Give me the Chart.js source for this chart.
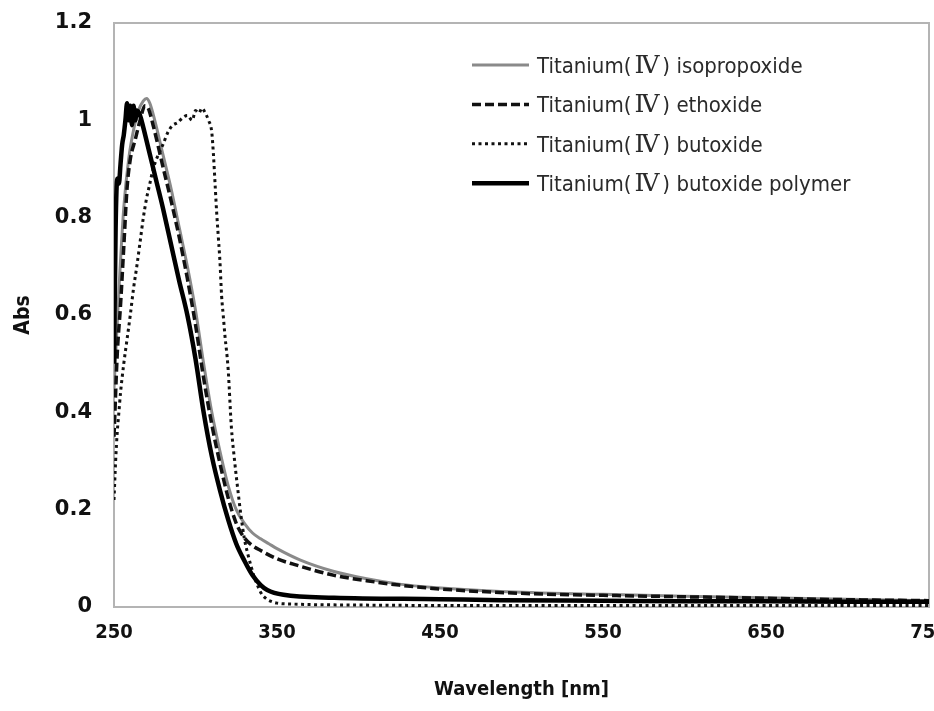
<!DOCTYPE html>
<html>
<head>
<meta charset="utf-8">
<script src="https://cdn.jsdelivr.net/npm/chart.js@4.4.1/dist/chart.umd.min.js"></script>
<style>
  html, body { margin: 0; padding: 0; background: #fff; }
  #wrap { width: 934px; height: 711px; position: relative; }
</style>
</head>
<body>
<div id="wrap"><canvas id="myChart"></canvas></div>
<script>
var nombres = [
    "Titanium(\u2163) isopropoxide",
    "Titanium(\u2163) ethoxide",
    "Titanium(\u2163) butoxide",
    "Titanium(\u2163) butoxide polymer"
];

var nm_iso = [250, 253, 256, 259, 262, 265, 268, 270, 272, 275, 280, 285, 290, 295, 300, 305, 310, 315, 320, 325, 330, 335, 340, 345, 350, 364, 385, 405, 425, 446, 487, 550, 600, 650, 700, 750];
var abs_iso = [0.45, 0.65, 0.82, 0.92, 0.98, 1.02, 1.04, 1.045, 1.035, 1.0, 0.93, 0.86, 0.78, 0.70, 0.61, 0.50, 0.40, 0.32, 0.25, 0.20, 0.172, 0.152, 0.14, 0.13, 0.12, 0.097, 0.073, 0.058, 0.047, 0.04, 0.032, 0.026, 0.022, 0.019, 0.016, 0.013];

var nm_eto = [250, 252, 254, 256, 258, 260, 263, 266, 269, 271, 274, 280, 285, 290, 295, 300, 305, 310, 315, 320, 325, 330, 335, 340, 350, 360, 385, 405, 425, 450, 500, 550, 600, 650, 700, 750];
var abs_eto = [0.35, 0.52, 0.62, 0.74, 0.86, 0.92, 0.96, 1.0, 1.03, 1.025, 0.99, 0.905, 0.835, 0.76, 0.675, 0.58, 0.47, 0.375, 0.295, 0.225, 0.172, 0.142, 0.126, 0.116, 0.099, 0.088, 0.065, 0.054, 0.045, 0.037, 0.028, 0.024, 0.021, 0.018, 0.015, 0.013];

var nm_but = [250, 251, 252, 253, 254, 256, 258, 260, 262, 264, 266, 268, 270, 272, 274, 276, 278, 280, 283, 286, 289, 292, 295, 298, 300, 302, 304, 306, 308, 310, 311, 312, 313, 314, 315, 316, 317, 318, 320, 322, 324, 326, 328, 330, 332, 334, 336, 338, 340, 343, 346, 350, 360, 400, 500, 600, 750];
var abs_but = [0.22, 0.3, 0.36, 0.4, 0.44, 0.5, 0.55, 0.6, 0.655, 0.70, 0.75, 0.8, 0.84, 0.87, 0.9, 0.92, 0.935, 0.95, 0.975, 0.99, 0.995, 1.005, 1.01, 1.0, 1.02, 1.015, 1.025, 1.015, 1.0, 0.975, 0.93, 0.87, 0.81, 0.76, 0.71, 0.64, 0.6, 0.56, 0.49, 0.37, 0.30, 0.24, 0.185, 0.14, 0.11, 0.085, 0.062, 0.045, 0.03, 0.018, 0.012, 0.008, 0.006, 0.004, 0.003, 0.003, 0.003];

var nm_pol = [250, 251, 252, 253, 254, 255, 256, 257, 258, 259, 260, 261, 262, 263, 264, 266, 268, 272, 276, 280, 285, 290, 295, 300, 305, 310, 315, 320, 325, 330, 335, 340, 344, 354, 385, 450, 487, 550, 600, 650, 700, 750];
var abs_pol = [0.50, 0.78, 0.88, 0.87, 0.91, 0.95, 0.97, 1.0, 1.035, 1.0, 1.03, 0.99, 1.03, 1.0, 1.02, 1.01, 0.985, 0.93, 0.875, 0.82, 0.745, 0.67, 0.60, 0.51, 0.40, 0.31, 0.24, 0.18, 0.13, 0.095, 0.065, 0.045, 0.035, 0.025, 0.019, 0.016, 0.014, 0.013, 0.012, 0.012, 0.011, 0.011];

var ticks_x = [250, 350, 450, 550, 650, 750];

function puntos(xs, ys) {
    var out = [];
    for (let i = 0; i < xs.length; i++) {
        out.push({ x: xs[i], y: ys[i] });
    }
    return out;
}

// marco gris alrededor del area de trazado
var marco = {
    id: 'marco',
    beforeDatasetsDraw: function(chart) {
        var a = chart.chartArea, ctx = chart.ctx;
        ctx.save();
        ctx.strokeStyle = '#b4b4b4';
        ctx.lineWidth = 2;
        ctx.strokeRect(a.left, a.top, a.right - a.left, a.bottom - a.top);
        ctx.restore();
    }
};

// leyenda dentro del grafico (arriba a la derecha)
var fuenteTexto = '22px "DejaVu Sans Condensed"';
var fuenteRomano = '25px "DejaVu Serif"';
var leyenda = {
    id: 'leyenda',
    afterDatasetsDraw: function(chart) {
        var ctx = chart.ctx;
        ctx.save();
        chart.data.datasets.forEach(function(ds, i) {
            var y = 65 + i * 39.4;
            ctx.beginPath();
            ctx.strokeStyle = ds.borderColor;
            ctx.lineWidth = ds.borderWidth;
            ctx.setLineDash(ds.borderDash || []);
            ctx.moveTo(472, y);
            ctx.lineTo(529, y);
            ctx.stroke();
            ctx.setLineDash([]);
            ctx.fillStyle = '#2a2a2a';
            ctx.textBaseline = 'alphabetic';
            var base = y + 8;
            // el numeral romano va con otra fuente
            var partes = ds.label.split('\u2163');
            var x = 537;
            ctx.font = fuenteTexto;
            ctx.fillText(partes[0], x, base);
            x += ctx.measureText(partes[0]).width + 3;
            ctx.font = fuenteRomano;
            ctx.fillText('\u2163', x, base);
            x += ctx.measureText('\u2163').width + 3;
            ctx.font = fuenteTexto;
            ctx.fillText(partes[1], x, base);
        });
        ctx.restore();
    }
};

var ctx = document.getElementById("myChart").getContext('2d');
var myChart = new Chart(ctx, {
    type: 'line',
    data: {
        datasets: [
            {
                label: nombres[0],
                data: puntos(nm_iso, abs_iso),
                borderColor: '#8a8a8a',
                borderWidth: 3,
                order: 3
            },
            {
                label: nombres[1],
                data: puntos(nm_eto, abs_eto),
                borderColor: '#111111',
                borderWidth: 3.5,
                borderDash: [9, 4],
                order: 2
            },
            {
                label: nombres[2],
                data: puntos(nm_but, abs_but),
                borderColor: '#111111',
                borderWidth: 3,
                borderDash: [3, 3.5],
                order: 1
            },
            {
                label: nombres[3],
                data: puntos(nm_pol, abs_pol),
                borderColor: '#000000',
                borderWidth: 4.5,
                order: 0
            }
        ]
    },
    options: {
        responsive: true,
        maintainAspectRatio: false,
        animation: false,
        layout: { padding: { left: 0, top: 23, right: 5, bottom: 0 } },
        elements: {
            point: { radius: 0 },
            line: { cubicInterpolationMode: 'monotone', fill: false, borderJoinStyle: 'round' }
        },
        plugins: {
            legend: { display: false },
            tooltip: { enabled: false }
        },
        scales: {
            x: {
                type: 'linear',
                min: 250,
                max: 750,
                afterBuildTicks: function(s) {
                    s.ticks = ticks_x.map(function(v) { return { value: v }; });
                },
                afterFit: function(s) {
                    s.height = 104;
                    s.paddingRight = 0;
                    s.paddingLeft = 0;
                },
                grid: { display: false, drawTicks: false },
                border: { display: false },
                ticks: {
                    padding: 14,
                    maxRotation: 0,
                    autoSkip: false,
                    color: '#111',
                    font: { family: 'DejaVu Sans Condensed', weight: 'bold', size: 20 }
                },
                title: {
                    display: true,
                    text: 'Wavelength [nm]',
                    color: '#111',
                    padding: { top: 0, bottom: 9 },
                    font: { family: 'DejaVu Sans Condensed', weight: 'bold', size: 20 }
                }
            },
            y: {
                min: 0,
                max: 1.2,
                afterFit: function(s) {
                    s.width = 114;
                    s.paddingTop = 0;
                    s.paddingBottom = 0;
                },
                grid: { display: false, drawTicks: false },
                border: { display: false },
                ticks: {
                    stepSize: 0.2,
                    padding: 22,
                    color: '#111',
                    font: { family: 'DejaVu Sans', weight: 'bold', size: 21 },
                    callback: function(v) { return String(parseFloat(v.toFixed(1))); }
                },
                title: {
                    display: true,
                    text: 'Abs',
                    color: '#111',
                    padding: { top: 11, bottom: 0 },
                    font: { family: 'DejaVu Sans Condensed', weight: 'bold', size: 21 }
                }
            }
        }
    },
    plugins: [marco, leyenda]
});
</script>
</body>
</html>
